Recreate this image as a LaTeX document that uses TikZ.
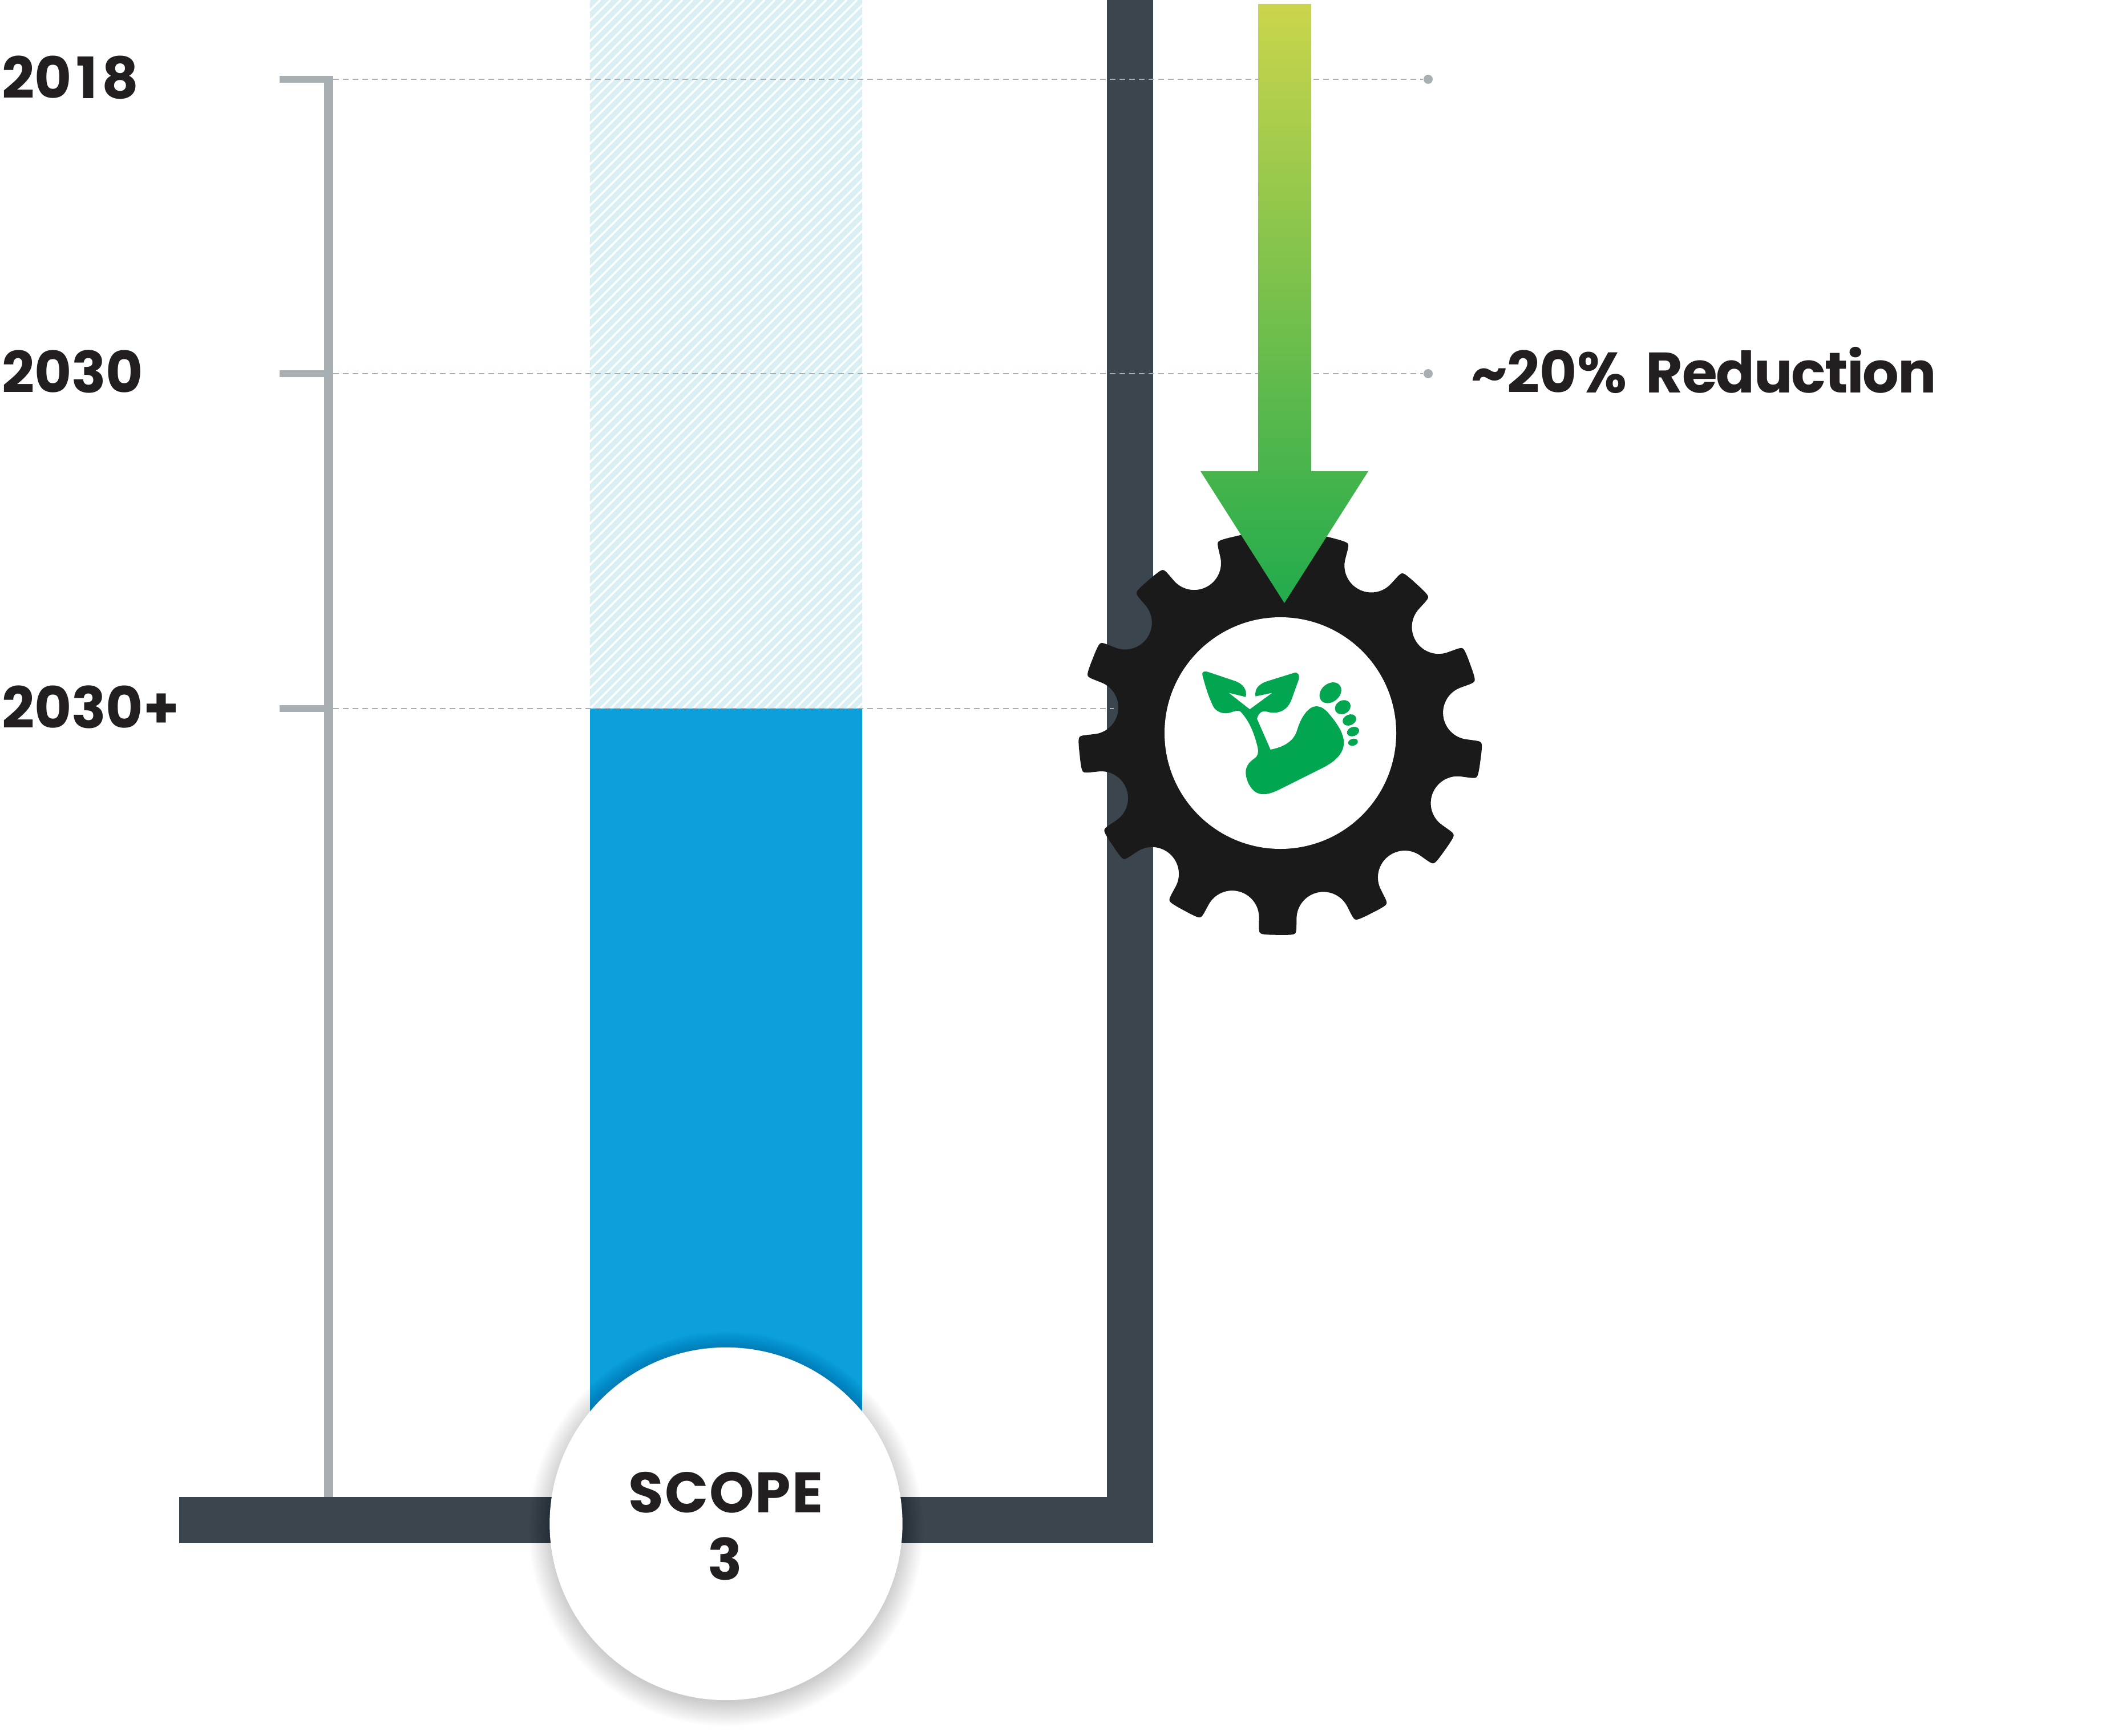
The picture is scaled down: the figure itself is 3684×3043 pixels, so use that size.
\documentclass[tikz,border=0pt]{standalone}
\usepackage{fontspec}
\setmainfont{Poppins}[BoldFont=* Bold]
\definecolor{barDark}{HTML}{3A454E}
\definecolor{axisGrey}{HTML}{A7AFB2}
\definecolor{blueFill}{HTML}{0B9FDB}
\definecolor{hatchFill}{HTML}{DAEFF4}
\definecolor{gearK}{HTML}{1A1A1A}
\definecolor{iconG}{HTML}{02A651}
\definecolor{arrowTop}{HTML}{CBD54C}
\definecolor{arrowBot}{HTML}{22AB4C}
\definecolor{textK}{HTML}{231F20}
\tikzset{
  lbl/.style={inner sep=0pt,outer sep=0pt,anchor=base west,text=textK,font=\fontsize{28.45}{34}\selectfont\bfseries},
  lblc/.style={lbl,anchor=base},
  tickline/.style={axisGrey,line width=0.12cm},
  guideline/.style={axisGrey,line width=0.02cm,dash pattern=on 0.10cm off 0.07cm},
  enddot/.style={circle,fill=axisGrey,inner sep=0pt,minimum size=0.16cm},
}
\begin{document}
\begin{tikzpicture}[x=0.01cm,y=-0.01cm]
\useasboundingbox (0,0) rectangle (3684,3043);
\fill[white] (0,0) rectangle (3684,3043);
% hatched + solid column
\fill[hatchFill] (1034,0) rectangle (1511,1242);
\begin{scope}
  \clip (1034,0) rectangle (1511,1242);
  \foreach \q in {0,...,97}
    \draw[white,line width=0.035cm] ({1034+18*\q-1250},1250) -- ({1034+18*\q},0);
\end{scope}
\fill[blueFill] (1034,1242) rectangle (1511,2700);
% axis
\coordinate (t1) at (490,139);
\coordinate (t2) at (490,655);
\coordinate (t3) at (490,1242);
\coordinate (a1) at (576,133);
\coordinate (a2) at (576,655);
\coordinate (a3) at (576,1242);
\coordinate (a4) at (576,2625);
\draw[axisGrey,line width=0.16cm] (a1) -- (a4);
\draw[tickline] (t1) -- (a1 |- t1);
\draw[tickline] (t2) -- (a2);
\draw[tickline] (t3) -- (a3);
% frame bars
\fill[barDark] (314,2624) rectangle (2021,2705);
\fill[barDark] (1940,0) rectangle (2021,2705);
% guides
\coordinate (g1) at (584,139);
\coordinate (g2) at (584,655);
\coordinate (g3) at (584,1242);
\coordinate (g3e) at (1952,1242);
\node[enddot] (d1) at (2503,139) {};
\node[enddot] (d2) at (2503,655) {};
\draw[guideline] (g1) -- (d1);
\draw[guideline] (g2) -- (d2);
\draw[guideline] (g3) -- (g3e);
% gear
\begin{scope}[shift={(2244,1285)},x=0.01cm,y=0.01cm]
\fill[gearK] ([rotate=89.2]338,-49.4)
  \foreach \k [evaluate=\k as \a using 89.2+27.6923*\k, evaluate=\k as \b using 89.2+27.6923*(\k+1)] in {0,...,12} {
    -- ([rotate=\a]322.6,-45.6)
    .. controls ([rotate=\a]301.6,-40.4) and ([rotate=\a]287,-21.6) .. ([rotate=\a]287,0)
    .. controls ([rotate=\a]287,21.6) and ([rotate=\a]301.6,40.4) .. ([rotate=\a]322.6,45.6)
    -- ([rotate=\a]338,49.4)
    .. controls ([rotate=\a]350.5,53) and ([rotate=\a]350.5,53) .. ([rotate=\a]346.3,73.6)
    -- ([rotate=\a]340.8,95.8)
    .. controls ([rotate=\b]350.5,-53) and ([rotate=\b]350.5,-53) .. ([rotate=\b]338,-49.4)
  } -- cycle;
\fill[white] (0,0) circle [radius=203];
\end{scope}
% icon
\begin{scope}[shift={(2050,1130)},x=0.01cm/3,y=-0.01cm/3]
\fill[iconG] (172,160) .. controls (168,145) and (178,137) .. (200,143)
  -- (340,190) .. controls (385,205) and (408,235) .. (400,275)
  -- (310,253) -- (421,340) -- (540,253) -- (451,272)
  .. controls (445,230) and (470,205) .. (520,190)
  -- (655,148) .. controls (675,143) and (685,160) .. (678,185)
  -- (640,290) .. controls (620,345) and (570,370) .. (510,352)
  .. controls (480,345) and (465,365) .. (459,390)
  -- (530,552) .. controls (590,540) and (650,515) .. (670,450)
  .. controls (690,380) and (730,325) .. (770,324)
  .. controls (800,325) and (815,340) .. (830,355)
  .. controls (870,400) and (900,445) .. (910,480)
  .. controls (925,530) and (915,590) .. (810,645)
  -- (580,760) .. controls (530,785) and (480,800) .. (445,770)
  .. controls (415,745) and (398,700) .. (400,665)
  .. controls (405,620) and (440,605) .. (455,590)
  .. controls (470,570) and (465,550) .. (460,530)
  .. controls (445,470) and (420,400) .. (370,350)
  .. controls (355,345) and (340,350) .. (325,355)
  .. controls (285,370) and (250,355) .. (232,330)
  .. controls (205,280) and (185,210) .. (172,160) -- cycle;
\fill[iconG,rotate around={40:(845,253)}] (845,253) ellipse [x radius=63,y radius=48];
\fill[iconG,rotate around={30:(910,329)}] (910,329) ellipse [x radius=43,y radius=35];
\fill[iconG,rotate around={25:(945,396)}] (945,396) ellipse [x radius=37,y radius=28];
\fill[iconG,rotate around={20:(964,457)}] (964,457) ellipse [x radius=33,y radius=24];
\fill[iconG,rotate around={15:(964,513)}] (964,513) ellipse [x radius=26,y radius=18];
\end{scope}
% arrow
\shade[top color=arrowTop,bottom color=arrowBot]
  (2205,7) -- (2298,7) -- (2298,826) -- (2398,826) -- (2251,1057) -- (2104,826) -- (2205,826) -- cycle;
% scope disc with soft shadow
\foreach \i in {1,...,26}
  \fill[black,opacity=0.006] (1272.5,2680) circle [radius={302+1.7*\i}];
\node[circle,fill=white,inner sep=0pt,minimum size=6.18cm] (disc) at (1272.5,2671) {};
% labels
\node[lbl] (y2018) at (3,173) {20\kern2.2pt 1\kern2.2pt 8};
\node[lbl] (y2030) at (3,689) {2030};
\node[lbl] (y2030p) at (3,1276) {2030+};
\node[lbl] (redu) at (2578,689) {\textasciitilde 20\%\kern3.5pt\ {\addfontfeature{LetterSpace=-1.8}Reduction}};
\node[lblc] (sc1) at (1272,2651) {\addfontfeature{LetterSpace=2}SCOPE};
\node[lblc] (sc2) at (1271,2769) {3};
\end{tikzpicture}
\end{document}
